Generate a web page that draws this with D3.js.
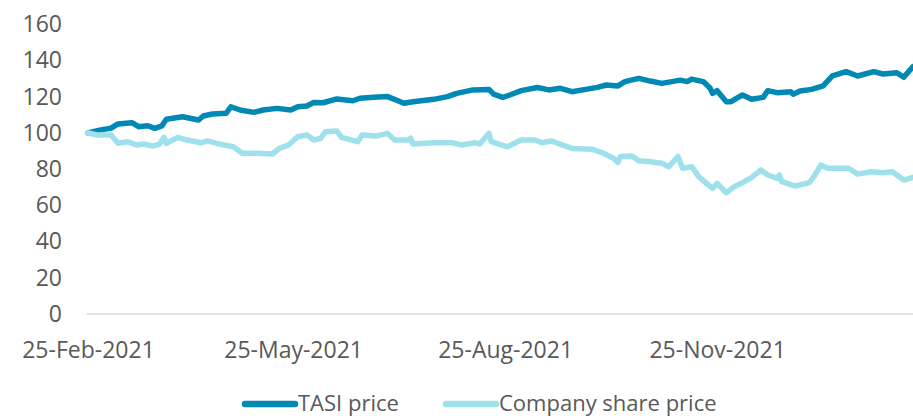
<!DOCTYPE html>
<html>
<head>
<meta charset="utf-8">
<script src="https://cdn.jsdelivr.net/npm/d3@7"></script>
<style>
    html, body { margin: 0; padding: 0; background: #fff; }
    #svg-container { width: 913px; height: 418px; }
    text { font-family: 'Open Sans', 'Liberation Sans', sans-serif; fill: #595959; }
</style>
</head>
<body>
<div id="svg-container"></div>
<script>
// TASI price (rebased to 100)
const tasi_dates = [
    '2021-02-25', '2021-03-02', '2021-03-07', '2021-03-10', '2021-03-16', '2021-03-19', '2021-03-23', '2021-03-26', '2021-03-29', '2021-03-31',
    '2021-04-07', '2021-04-14', '2021-04-16', '2021-04-20', '2021-04-26', '2021-04-28', '2021-05-02', '2021-05-08', '2021-05-12', '2021-05-18',
    '2021-05-24', '2021-05-27', '2021-05-31', '2021-06-03', '2021-06-07', '2021-06-13', '2021-06-20', '2021-06-23', '2021-06-29', '2021-07-05',
    '2021-07-08', '2021-07-12', '2021-07-16', '2021-07-25', '2021-07-31', '2021-08-04', '2021-08-11', '2021-08-18', '2021-08-20', '2021-08-24',
    '2021-08-27', '2021-09-01', '2021-09-08', '2021-09-13', '2021-09-18', '2021-09-23', '2021-09-29', '2021-10-04', '2021-10-08', '2021-10-13',
    '2021-10-16', '2021-10-22', '2021-10-27', '2021-11-01', '2021-11-09', '2021-11-12', '2021-11-14', '2021-11-19', '2021-11-22', '2021-11-23',
    '2021-11-25', '2021-11-29', '2021-12-01', '2021-12-06', '2021-12-10', '2021-12-15', '2021-12-17', '2021-12-21', '2021-12-27', '2021-12-28',
    '2021-12-31', '2022-01-05', '2022-01-10', '2022-01-14', '2022-01-20', '2022-01-25', '2022-02-01', '2022-02-05', '2022-02-11', '2022-02-14',
    '2022-02-18'
];
const tasi_values = [
    100, 101.6, 102.7, 105, 105.7, 103.5, 104, 102.6, 103.9, 107.6,
    109, 107.2, 109.4, 110.5, 110.9, 114.5, 112.7, 111.4, 112.7, 113.6,
    112.7, 114.5, 114.9, 116.9, 116.7, 118.8, 117.8, 119.2, 119.7, 120.1,
    118.6, 116.4, 117.3, 118.6, 120.1, 121.9, 123.8, 124.1, 121.5, 119.7,
    121, 123.4, 125.1, 123.8, 124.7, 122.8, 124.1, 125.2, 126.5, 126,
    128.4, 130.2, 128.7, 127.4, 129.2, 128.4, 129.8, 128.4, 124.7, 121.9,
    123.4, 117.3, 117.3, 121, 118.6, 119.7, 123.4, 122.3, 122.8, 121.4,
    123.2, 124.1, 126, 131.5, 133.9, 131.5, 133.9, 132.6, 133.3, 130.8,
    136.7
];

// Company share price (rebased to 100)
const company_dates = [
    '2021-02-25', '2021-03-01', '2021-03-07', '2021-03-10', '2021-03-14', '2021-03-18', '2021-03-21', '2021-03-25', '2021-03-28', '2021-03-30',
    '2021-03-31', '2021-04-05', '2021-04-09', '2021-04-15', '2021-04-18', '2021-04-23', '2021-04-29', '2021-05-03', '2021-05-09', '2021-05-16',
    '2021-05-19', '2021-05-23', '2021-05-27', '2021-05-31', '2021-06-03', '2021-06-06', '2021-06-08', '2021-06-13', '2021-06-15', '2021-06-22',
    '2021-06-24', '2021-06-30', '2021-07-05', '2021-07-08', '2021-07-14', '2021-07-15', '2021-07-16', '2021-07-25', '2021-08-02', '2021-08-06',
    '2021-08-12', '2021-08-14', '2021-08-18', '2021-08-19', '2021-08-26', '2021-09-01', '2021-09-07', '2021-09-10', '2021-09-14', '2021-09-23',
    '2021-10-02', '2021-10-06', '2021-10-11', '2021-10-13', '2021-10-14', '2021-10-19', '2021-10-22', '2021-10-27', '2021-11-01', '2021-11-04',
    '2021-11-08', '2021-11-10', '2021-11-14', '2021-11-17', '2021-11-20', '2021-11-23', '2021-11-25', '2021-11-29', '2021-12-02', '2021-12-06',
    '2021-12-10', '2021-12-14', '2021-12-17', '2021-12-21', '2021-12-22', '2021-12-23', '2021-12-29', '2022-01-04', '2022-01-06', '2022-01-09',
    '2022-01-12', '2022-01-16', '2022-01-21', '2022-01-25', '2022-01-31', '2022-02-05', '2022-02-09', '2022-02-14', '2022-02-18'
];
const company_values = [
    100, 98.9, 98.9, 94.3, 95.2, 93.4, 93.9, 92.8, 93.9, 97.6,
    94.3, 97.6, 96.1, 94.6, 95.6, 93.9, 92.4, 88.8, 88.8, 88.4,
    91.5, 93.4, 97.9, 98.9, 96.1, 97.1, 100.7, 101.1, 97.6, 95.2,
    98.9, 98.3, 99.8, 96.1, 96.1, 97.1, 93.9, 94.6, 94.6, 93.4,
    94.6, 93.9, 99.8, 95.2, 92.4, 96.1, 96.1, 94.6, 95.6, 91.5,
    91, 89.2, 86.1, 83.7, 87, 87.3, 84.7, 84.1, 83.3, 81.4,
    87, 80.5, 81.4, 75.9, 72.6, 69.4, 72.2, 67, 70, 72.6,
    75.5, 79.6, 76.8, 74.9, 76.8, 73.1, 70.7, 72.6, 75.9, 82.3,
    80.5, 80.5, 80.5, 77.3, 78.6, 78.1, 78.6, 74, 75.5
];

const x_tick_dates = ['2021-02-25', '2021-05-25', '2021-08-25', '2021-11-25'];
const y_ticks = [0, 20, 40, 60, 80, 100, 120, 140, 160];
const series_names = ['TASI price', 'Company share price'];

// chart params
const input_params = {
    width: 913,
    height: 418,
    margin: { top: 24.4, left: 87, right: 0, bottom: 104 },
    fontSize: 23,
    lineWidth: 5.5,
    lineColors: ['#0089b4', '#9ee1ed'],
    axisColor: '#d9d9d9'
};

const parseDate = d3.timeParse('%Y-%m-%d');

const series = [
    { name: series_names[0], values: tasi_dates.map((d, i) => ({ date: parseDate(d), value: tasi_values[i] })) },
    { name: series_names[1], values: company_dates.map((d, i) => ({ date: parseDate(d), value: company_values[i] })) }
];

const createChart = () => {
    d3.select('svg').remove();
    const svg = d3.select('#svg-container')
        .append('svg')
        .attr('width', input_params.width)
        .attr('height', input_params.height);

    const m = input_params.margin;
    const plotBottom = input_params.height - m.bottom;
    const plotRight = input_params.width - m.right;

    const x = d3.scaleTime()
        .domain([parseDate(tasi_dates[0]), parseDate(tasi_dates[tasi_dates.length - 1])])
        .range([m.left + 1, plotRight]);
    const y = d3.scaleLinear()
        .domain([0, 160])
        .range([plotBottom, m.top]);

    // y axis, labels only
    const yAxis = svg.append('g')
        .attr('class', 'y-axis')
        .attr('transform', `translate(${m.left}, 0)`)
        .call(d3.axisLeft(y).tickValues(y_ticks).tickSize(0).tickPadding(25));
    yAxis.select('.domain').remove();
    yAxis.selectAll('text')
        .style('font-size', input_params.fontSize + 'px')
        .attr('fill', '#595959');

    // x axis with horizontal line
    const xAxis = svg.append('g')
        .attr('class', 'x-axis')
        .attr('transform', `translate(0, ${plotBottom})`)
        .call(d3.axisBottom(x)
            .tickValues(x_tick_dates.map(parseDate))
            .tickFormat(d3.timeFormat('%d-%b-%Y'))
            .tickSize(0)
            .tickPadding(28));
    xAxis.select('.domain')
        .attr('stroke', input_params.axisColor)
        .attr('stroke-width', 1.5)
        .attr('d', `M${m.left},0H${plotRight}`);
    xAxis.selectAll('text')
        .style('font-size', input_params.fontSize + 'px')
        .attr('fill', '#595959');

    // lines
    const line = d3.line()
        .x(d => x(d.date))
        .y(d => y(d.value));

    svg.append('g')
        .attr('class', 'lines')
        .selectAll('path.series')
        .data(series)
        .enter()
        .append('path')
        .attr('class', 'series')
        .attr('fill', 'none')
        .attr('stroke', (d, i) => input_params.lineColors[i])
        .attr('stroke-width', input_params.lineWidth)
        .attr('stroke-linejoin', 'round')
        .attr('stroke-linecap', 'round')
        .attr('d', d => line(d.values));

    // legend
    const legendItems = [
        { name: series_names[0], x: 242 },
        { name: series_names[1], x: 443 }
    ];
    const legend = svg.append('g')
        .attr('class', 'legend')
        .attr('transform', 'translate(0, 404)');
    const item = legend.selectAll('g.item')
        .data(legendItems)
        .enter()
        .append('g')
        .attr('class', 'item')
        .attr('transform', d => `translate(${d.x}, 0)`);
    item.append('line')
        .attr('x1', 3)
        .attr('x2', 53)
        .attr('y1', 0)
        .attr('y2', 0)
        .attr('stroke', (d, i) => input_params.lineColors[i])
        .attr('stroke-width', 6.5)
        .attr('stroke-linecap', 'round');
    item.append('text')
        .attr('x', 56)
        .attr('y', 7)
        .style('font-size', '22px')
        .text(d => d.name);
};
createChart();
</script>
</body>
</html>
